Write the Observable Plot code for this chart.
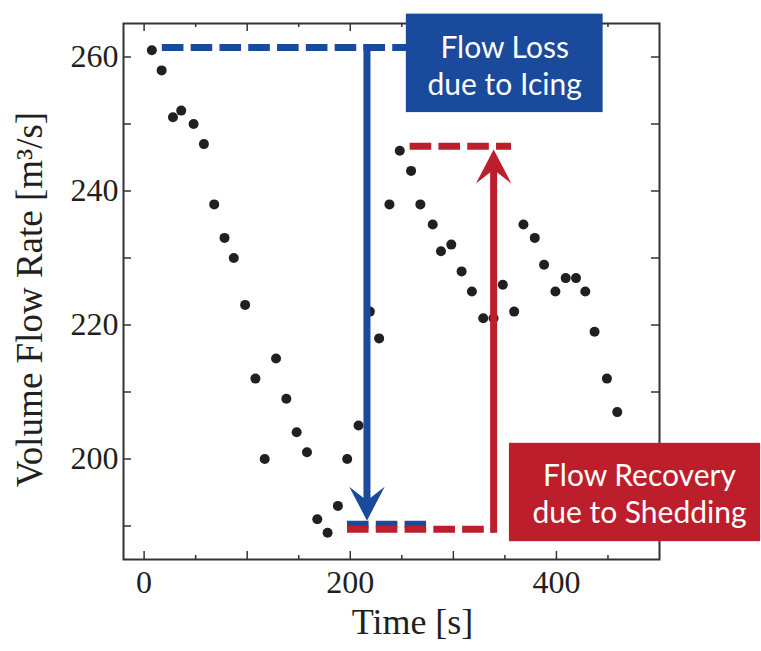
<!DOCTYPE html>
<html><head><meta charset="utf-8">
<script src="https://cdn.jsdelivr.net/npm/d3@7"></script>
<script src="https://cdn.jsdelivr.net/npm/@observablehq/plot@0.6"></script>
<style>body{margin:0;background:#fff}</style>
</head><body><div id="chart"></div>
<script>
// measured points
const time = [7.5, 17, 28, 36, 48, 58, 68, 78, 87, 98, 108, 117, 128, 138, 148, 158, 168, 178, 188, 197, 208, 219, 228, 238, 248, 259, 268, 280, 288, 298, 308, 318, 329, 339, 348, 359, 368, 379, 388, 399, 409, 419, 428, 437, 449, 459];
const flow = [261, 258, 251, 252, 250, 247, 238, 233, 230, 223, 212, 200, 215, 209, 204, 201, 191, 189, 193, 200, 205, 222, 218, 238, 246, 243, 238, 235, 231, 232, 228, 225, 221, 221, 226, 222, 235, 233, 229, 225, 227, 227, 225, 219, 212, 207];

// axes
const xMajorTicks = [0, 100, 200, 300, 400];
const xMinorTicks = [50, 150, 250, 350, 450];
const xTickLabels = [0, 200, 400];
const yTicks = [190, 200, 210, 220, 230, 240, 250, 260];
const yTickLabels = [200, 220, 240, 260];
const xTitle = "Time [s]";
const yTitle = "Volume Flow Rate [m³/s]";

// annotations (data units)
const lossLabel = "Flow Loss\ndue to Icing";
const recoveryLabel = "Flow Recovery\ndue to Shedding";
const lossTopLine = [[17.2, 261.4], [262, 261.4]];
const lossShaft = [[216.2, 261.4], [216.2, 193.5]];
const lossTip = [[216.2, 190.8]];
const lossBottomLine = [[196.8, 190.25], [273.5, 190.25]];
const recBottomLine = [[196.8, 189.5], [339.1, 189.5]];
const recShaft = [[339.1, 189.5], [339.1, 243.5]];
const recTip = [[339.1, 246.2]];
const recTopLine = [[257.6, 246.67], [356, 246.67]];
const lossBoxX = [254.4, 445.3], lossBoxY = [251.7, 266.4];
const recBoxX = [354.4, 598.1], recBoxY = [187.66, 202.34];
const lossTextPos = [349.8, 258.9];
const recTextPos = [480.6, 195.0];

const BLUE = "#1a4a9c", RED = "#bd1e2c", INK = "#231f20", AX = "#333333";
const FW = 536, FH = 536;

const arrowUp = {draw(c){c.moveTo(0,0);c.lineTo(17.7,34);c.lineTo(3.6,23);c.lineTo(-3.6,23);c.lineTo(-17.7,34);c.closePath();}};
const arrowDown = {draw(c){c.moveTo(0,0);c.lineTo(17.7,-34);c.lineTo(3.6,-23);c.lineTo(-3.6,-23);c.lineTo(-17.7,-34);c.closePath();}};

const pts = time.map((t, i) => ({t, v: flow[i]}));
const dash = "21.6,7.2";
const boxFont = "Lato, 'Open Sans', sans-serif";
const dashed = (stroke) => ({stroke, strokeWidth: 7, strokeDasharray: dash, strokeLinecap: "butt", strokeLinejoin: "miter"});
const solid = (stroke) => ({stroke, strokeWidth: 7, strokeLinecap: "square", strokeLinejoin: "miter"});

const chart = Plot.plot({
  width: 761, height: 651,
  marginLeft: 123, marginRight: 102, marginTop: 23, marginBottom: 92,
  x: {domain: [-20, 500]},
  y: {domain: [185, 265]},
  style: {fontFamily: "'Liberation Serif', 'Times New Roman', serif", background: "#fff", color: INK},
  marks: [
    Plot.frame({stroke: AX, strokeWidth: 2}),
    Plot.tickY(yTicks, {y: d => d, insetRight: FW - 8, stroke: AX, strokeWidth: 1.5}),
    Plot.tickY(yTicks, {y: d => d, insetLeft: FW - 8, stroke: AX, strokeWidth: 1.5}),
    Plot.tickX(xMajorTicks, {x: d => d, insetTop: FH - 8, stroke: AX, strokeWidth: 1.5}),
    Plot.tickX(xMinorTicks, {x: d => d, insetTop: FH - 4, stroke: AX, strokeWidth: 1.5}),
    Plot.tickX(xMajorTicks, {x: d => d, insetBottom: FH - 8, stroke: AX, strokeWidth: 1.5}),
    Plot.tickX(xMinorTicks, {x: d => d, insetBottom: FH - 4, stroke: AX, strokeWidth: 1.5}),
    Plot.axisY(yTickLabels, {tickSize: 0, tickPadding: 5, fontSize: 32, fill: INK, label: null}),
    Plot.axisX(xTickLabels, {tickSize: 0, tickPadding: 11, fontSize: 32, fill: INK, label: null}),
    Plot.text([yTitle], {frameAnchor: "left", rotate: -90, dx: -93, dy: 8, fontSize: 37, fill: INK, textAnchor: "middle", lineAnchor: "middle"}),
    Plot.text([xTitle], {frameAnchor: "bottom", dx: 21, dy: 62.5, fontSize: 36, fill: INK, textAnchor: "middle", lineAnchor: "middle"}),
    Plot.dot(pts, {x: "t", y: "v", r: 5, fill: INK, stroke: "none"}),
    // flow loss annotation
    Plot.line(lossTopLine, dashed(BLUE)),
    Plot.line(lossShaft, solid(BLUE)),
    Plot.dot(lossTip, {x: d => d[0], y: d => d[1], symbol: arrowDown, fill: BLUE, stroke: "none"}),
    Plot.line(lossBottomLine, dashed(BLUE)),
    // flow recovery annotation
    Plot.line(recBottomLine, dashed(RED)),
    Plot.line(recShaft, solid(RED)),
    Plot.dot(recTip, {x: d => d[0], y: d => d[1], symbol: arrowUp, fill: RED, stroke: "none"}),
    Plot.line(recTopLine, dashed(RED)),
    // boxes
    Plot.rect([0], {x1: lossBoxX[0], x2: lossBoxX[1], y1: lossBoxY[0], y2: lossBoxY[1], fill: BLUE}),
    Plot.text([lossLabel], {x: [lossTextPos[0]], y: [lossTextPos[1]], fill: "#fff", fontSize: 30, lineHeight: 1.26, fontFamily: boxFont}),
    Plot.rect([0], {x1: recBoxX[0], x2: recBoxX[1], y1: recBoxY[0], y2: recBoxY[1], fill: RED}),
    Plot.text([recoveryLabel], {x: [recTextPos[0]], y: [recTextPos[1]], fill: "#fff", fontSize: 30, lineHeight: 1.26, fontFamily: boxFont})
  ]
});
document.getElementById("chart").appendChild(chart);
</script>
</body></html>
